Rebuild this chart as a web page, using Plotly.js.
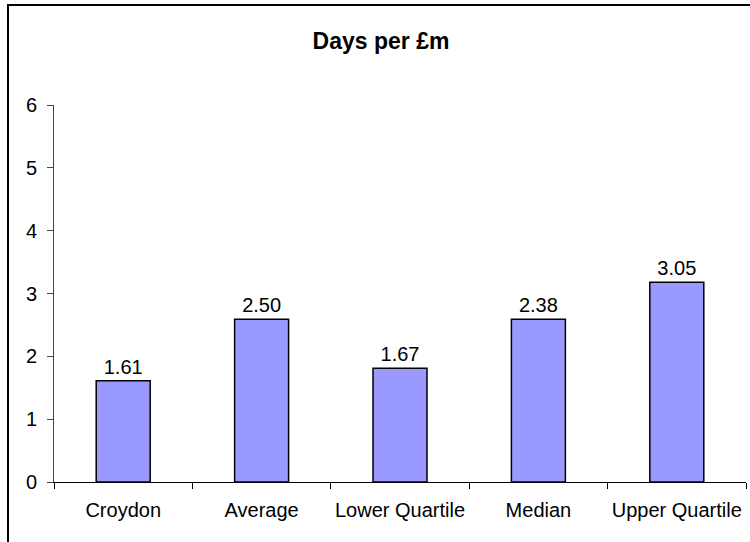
<!DOCTYPE html>
<html>
<head>
<meta charset="utf-8">
<script src="https://cdn.plot.ly/plotly-3.0.1.min.js"></script>
<style>
html,body{margin:0;padding:0;background:#fff;overflow:hidden;}
#wrap{position:relative;width:750px;height:542px;}
#chart{width:750px;height:542px;}
#frame{position:absolute;left:7px;top:4px;width:800px;height:600px;border:2px solid #000;pointer-events:none;}
</style>
</head>
<body>
<div id="wrap"><div id="chart"></div><div id="frame"></div></div>
<script>
const categories = ["Croydon", "Average", "Lower Quartile", "Median", "Upper Quartile"];
const barValues = [1.61, 2.59, 1.81, 2.59, 3.18];
const valueLabels = ["1.61", "2.50", "1.67", "2.38", "3.05"];
const yTicks = [0, 1, 2, 3, 4, 5, 6];

const FONT = "Liberation Sans, Arial, sans-serif";

const trace = {
  type: "bar",
  x: categories,
  y: barValues,
  text: valueLabels,
  textposition: "outside",
  cliponaxis: false,
  textfont: {family: FONT, size: 20, color: "#000"},
  marker: {color: "#9999FF", line: {color: "#000", width: 1.5}},
  hoverinfo: "none"
};

const layout = {
  width: 750, height: 542,
  margin: {l: 54, r: 4, t: 105, b: 60},
  paper_bgcolor: "#fff", plot_bgcolor: "#fff",
  bargap: 0.61,
  showlegend: false,
  font: {family: FONT, size: 20, color: "#000"},
  title: {
    text: "<b>Days per £m</b>",
    font: {family: FONT, size: 23, color: "#000"},
    xref: "container", yref: "container",
    x: 381/750, y: 1 - 41/542, xanchor: "center", yanchor: "middle"
  },
  xaxis: {
    type: "category",
    showline: true, linecolor: "#000", linewidth: 1,
    ticks: "outside", tickson: "boundaries", ticklen: 6, tickcolor: "#000",
    tickangle: 0,
    ticklabelstandoff: 10,
    showgrid: false, zeroline: false,
    tickfont: {family: FONT, size: 20, color: "#000"}
  },
  yaxis: {
    range: [0, 6],
    tickvals: yTicks,
    showline: true, linecolor: "#444", linewidth: 1,
    ticks: "outside", ticklen: 6, tickcolor: "#444",
    ticklabelstandoff: 6,
    showgrid: false, zeroline: false,
    tickfont: {family: FONT, size: 20, color: "#000"}
  }
};

Plotly.newPlot("chart", [trace], layout, {displayModeBar: false, staticPlot: true});
</script>
</body>
</html>
